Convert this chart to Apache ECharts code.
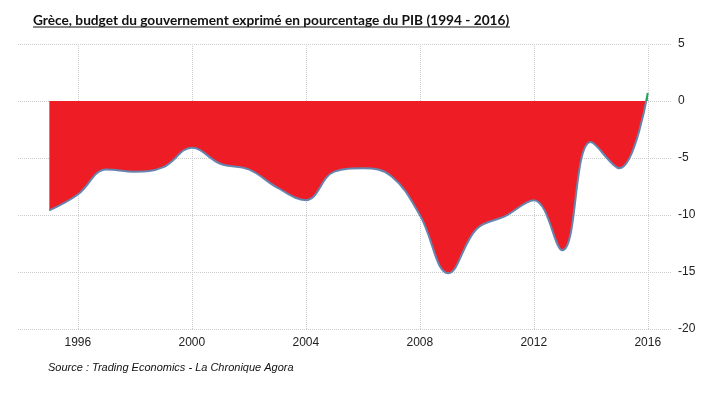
<!DOCTYPE html>
<html>
<head>
<meta charset="utf-8">
<script src="https://cdn.jsdelivr.net/npm/echarts@6/dist/echarts.min.js"></script>
<style>
  html, body { margin: 0; padding: 0; background: #fff; }
  #chart { width: 724px; height: 397px; }
</style>
</head>
<body>
<div id="chart"></div>
<script>
// années et solde budgétaire (% du PIB)
var years = [1995, 1996, 1997, 1998, 1999, 2000, 2001, 2002, 2003, 2004, 2005,
             2006, 2007, 2008, 2009, 2010, 2011, 2012, 2013, 2014, 2015, 2016];
var budget = [-9.6, -8.2, -6.0, -6.2, -5.8, -4.1, -5.5, -6.0, -7.6, -8.7, -6.2,
              -5.9, -6.6, -10.0, -15.1, -11.2, -10.1, -8.7, -13.1, -3.6, -5.9, 0.7];
var xTicks = [1996, 2000, 2004, 2008, 2012, 2016];

var points = years.map(function (y, i) { return [y, budget[i]]; });

var chart = echarts.init(document.getElementById('chart'));
var labelFont = '"Liberation Sans Narrow", "Liberation Sans", Arial, sans-serif';

chart.setOption({
  animation: false,
  title: {
    text: 'Grèce, budget du gouvernement exprimé en pourcentage du PIB (1994 - 2016)',
    left: 28,
    top: 9,
    textStyle: { fontFamily: 'Lato, sans-serif', fontWeight: 'bold', fontSize: 13.7, color: '#111' }
  },
  graphic: [
    { type: 'line', shape: { x1: 33, y1: 27, x2: 510, y2: 27 }, style: { stroke: '#111', lineWidth: 1 } },
    {
      type: 'text', left: 48, top: 362,
      style: { text: 'Source : Trading Economics - La Chronique Agora', font: 'italic 11px ' + labelFont, fill: '#111' }
    }
  ],
  grid: { left: 18, right: 52, top: 44, bottom: 68 },
  xAxis: {
    type: 'value',
    min: 1993.9,
    max: 2016.85,
    axisLine: { show: false },
    axisTick: { show: false, customValues: xTicks },
    axisLabel: {
      customValues: xTicks,
      formatter: function (v) { return String(v); },
      color: '#222', fontSize: 12, fontFamily: labelFont, margin: 8
    },
    splitLine: { show: true, lineStyle: { color: '#ccc', type: 'dotted' } }
  },
  yAxis: {
    type: 'value',
    position: 'right',
    min: -20,
    max: 5,
    interval: 5,
    axisLine: { show: false },
    axisTick: { show: false },
    axisLabel: { color: '#222', fontSize: 12, fontFamily: labelFont, margin: 6 },
    splitLine: { lineStyle: { color: '#ccc', type: 'dotted' } }
  },
  visualMap: [
    {
      show: false,
      seriesIndex: 0,
      dimension: 1,
      pieces: [
        { gte: -100, lt: 0, color: '#ee1c25' },
        { gte: 0, lte: 100, color: '#22a55f' }
      ]
    },
    {
      show: false,
      seriesIndex: 1,
      dimension: 1,
      pieces: [
        { gte: -100, lt: 0, color: '#6684ad' },
        { gte: 0, lte: 100, color: '#22a55f' }
      ]
    }
  ],
  series: [
    {
      type: 'line',
      data: points,
      smooth: 0.4,
      symbol: 'none',
      lineStyle: { width: 0 },
      areaStyle: { opacity: 1 }
    },
    {
      type: 'line',
      data: points,
      smooth: 0.4,
      symbol: 'none',
      lineStyle: { width: 2 }
    }
  ]
});
</script>
</body>
</html>
